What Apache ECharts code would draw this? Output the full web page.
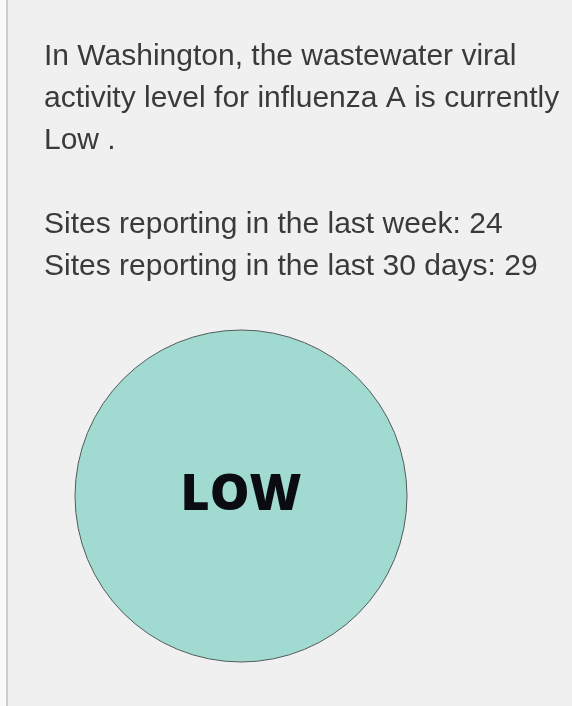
<!DOCTYPE html>
<html>
<head>
<meta charset="utf-8">
<script src="https://cdn.jsdelivr.net/npm/echarts@6/dist/echarts.min.js"></script>
<style>
  html, body { margin: 0; padding: 0; background: #fafafa; }
  #main { width: 572px; height: 706px; }
</style>
</head>
<body>
<div id="main"></div>
<script>
  // data
  var stateName = 'Washington';
  var pathogen = 'influenza A';
  var levelText = 'Low';
  var siteLabels = ['Sites reporting in the last week', 'Sites reporting in the last 30 days'];
  var siteCounts = [24, 29];
  var levelNames = ['LOW'];
  var levelValues = [1];

  var chart = echarts.init(document.getElementById('main'));

  var lines = [
    'In ' + stateName + ', the wastewater viral',
    'activity level for ' + pathogen + ' is currently',
    levelText + ' .',
    ''
  ];
  for (var i = 0; i < siteLabels.length; i++) {
    lines.push(siteLabels[i] + ': ' + siteCounts[i]);
  }

  chart.setOption({
    backgroundColor: 'transparent',
    graphic: [
      // panel background + left border
      { type: 'rect', left: 8, top: 0, shape: { width: 564, height: 706 }, style: { fill: '#f0f0f0' }, z: -10 },
      { type: 'rect', left: 6, top: 0, shape: { width: 2, height: 706 }, style: { fill: '#cdcdcd' }, z: -9 }
    ],
    title: {
      text: lines.join('\n'),
      left: 44,
      top: 36,
      padding: 0,
      textStyle: {
        fontFamily: 'Liberation Sans, Arial, sans-serif',
        fontSize: 30,
        fontWeight: 'normal',
        lineHeight: 42,
        color: '#3a3a3a'
      }
    },
    series: [{
      type: 'pie',
      center: [241, 496],
      radius: 166,
      silent: true,
      startAngle: 90,
      itemStyle: {
        color: '#a0dad1',
        borderColor: '#555b5b',
        borderWidth: 1
      },
      label: {
        show: true,
        position: 'center',
        formatter: '{b}',
        fontFamily: '"Open Sans", sans-serif',
        fontWeight: 800,
        fontSize: 50,
        color: '#0a0c12'
      },
      labelLine: { show: false },
      data: levelNames.map(function (n, i) { return { name: n, value: levelValues[i] }; })
    }]
  });
</script>
</body>
</html>
